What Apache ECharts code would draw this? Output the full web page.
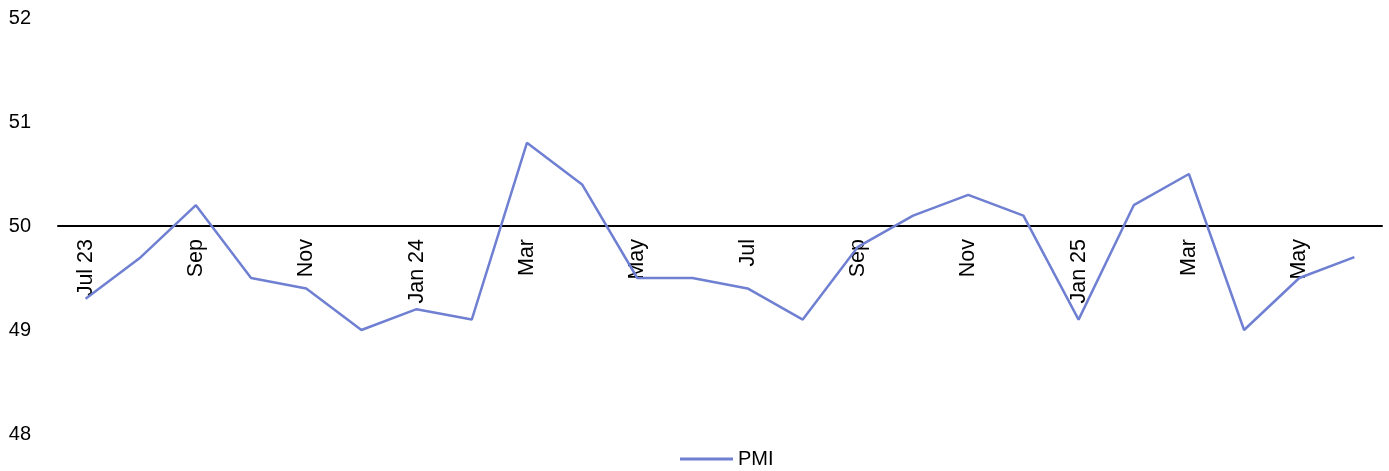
<!DOCTYPE html>
<html>
<head>
<meta charset="utf-8">
<script src="https://cdn.jsdelivr.net/npm/echarts@6/dist/echarts.min.js"></script>
<style>
  html, body { margin: 0; padding: 0; background: #ffffff; }
  #chart { width: 1389px; height: 471px; }
</style>
</head>
<body>
<div id="chart"></div>
<script>
// Monthly manufacturing PMI, Jul 2023 – Jun 2025
const months = [
  'Jul 23', 'Aug', 'Sep', 'Oct', 'Nov', 'Dec',
  'Jan 24', 'Feb', 'Mar', 'Apr', 'May', 'Jun',
  'Jul', 'Aug', 'Sep', 'Oct', 'Nov', 'Dec',
  'Jan 25', 'Feb', 'Mar', 'Apr', 'May', 'Jun'
];
const pmi = [
  49.3, 49.7, 50.2, 49.5, 49.4, 49.0,
  49.2, 49.1, 50.8, 50.4, 49.5, 49.5,
  49.4, 49.1, 49.8, 50.1, 50.3, 50.1,
  49.1, 50.2, 50.5, 49.0, 49.5, 49.7
];
const yMin = 48, yMax = 52, yStep = 1;
const threshold = 50;

const FONT = 'Liberation Sans, Arial, sans-serif';
const LINE_COLOR = '#6f7fd2';

const chart = echarts.init(document.getElementById('chart'), null, { renderer: 'canvas' });

// The category axis sits on the 50 threshold: shift it up from the grid bottom
const gridTop = 18, gridBottom = 37, chartHeight = 471;
const plotH = chartHeight - gridTop - gridBottom;
const axisOffset = -plotH * (threshold - yMin) / (yMax - yMin);

chart.setOption({
  animation: false,
  backgroundColor: '#ffffff',
  grid: { left: 58, right: 7, top: gridTop, bottom: gridBottom, containLabel: false },
  legend: {
    data: ['PMI'],
    left: 675,
    top: 444,
    icon: 'rect',
    itemWidth: 53,
    itemHeight: 3,
    itemGap: 20,
    textStyle: { fontFamily: FONT, fontSize: 20, color: '#000000', padding: [0, 0, 0, 0] }
  },
  xAxis: {
    type: 'category',
    data: months,
    boundaryGap: true,
    position: 'bottom',
    offset: axisOffset,
    axisLine: { show: true, lineStyle: { color: '#000000', width: 2 } },
    axisTick: { show: false },
    splitLine: { show: false },
    axisLabel: {
      interval: 1,
      rotate: 90,
      margin: 13,
      fontFamily: FONT,
      fontSize: 21.5,
      color: '#000000'
    }
  },
  yAxis: {
    type: 'value',
    min: yMin,
    max: yMax,
    interval: yStep,
    axisLine: { show: false },
    axisTick: { show: false },
    splitLine: { show: false },
    axisLabel: {
      margin: 27,
      fontFamily: FONT,
      fontSize: 20,
      color: '#000000'
    }
  },
  series: [{
    name: 'PMI',
    type: 'line',
    data: pmi,
    showSymbol: false,
    symbol: 'none',
    z: 5,
    lineStyle: { color: LINE_COLOR, width: 2.5 },
    itemStyle: { color: LINE_COLOR }
  }]
});
</script>
</body>
</html>
